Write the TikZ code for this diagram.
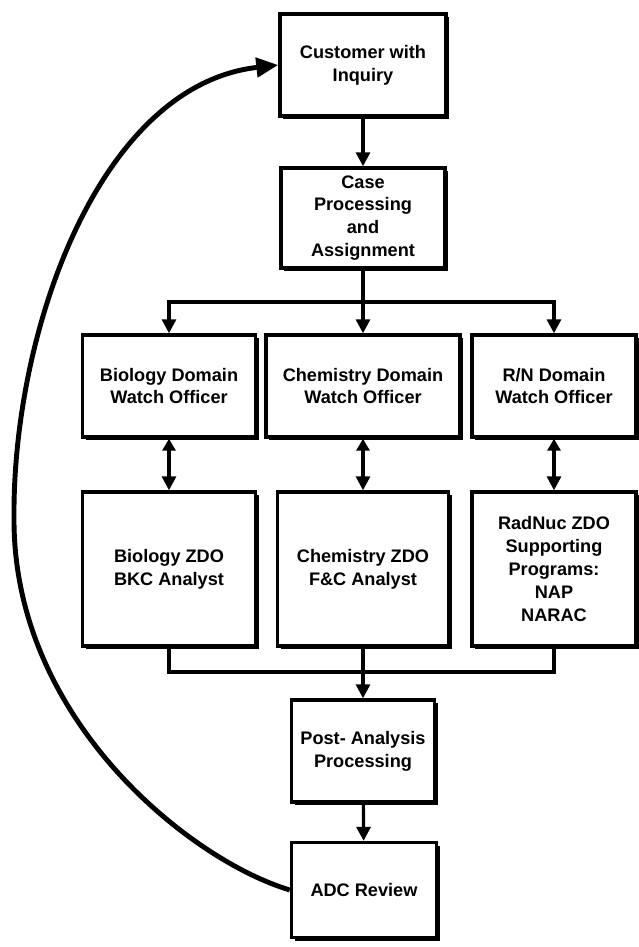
\documentclass[tikz,border=0pt]{standalone}
\usepackage{fontspec}
\setmainfont{Liberation Sans}
\usetikzlibrary{arrows.meta,shadows}
\newcommand\pxu{0.03cm}
\begin{document}
\begin{tikzpicture}[x=0.03cm,y=-0.03cm,
  box/.style={draw=black, line width=2.9pt, fill=white, align=center, inner sep=0pt,
    font=\fontsize{15.5}{19.5}\selectfont\bfseries,
    drop shadow={shadow xshift=3*\pxu, shadow yshift=-3*\pxu, fill=black, opacity=1}},
  conn/.style={line width=2.7pt},
  arr/.style={conn, -{Triangle[length=14*\pxu, width=14*\pxu]}},
  darr/.style={conn, {Triangle[length=12*\pxu, width=13*\pxu]}-{Triangle[length=14*\pxu, width=14*\pxu]}},
  loopback/.style={line width=4.2pt, -{Triangle[length=22*\pxu, width=19*\pxu]}}
]
\useasboundingbox (0,0) rectangle (638,947);

\node[box, minimum width=166*\pxu, minimum height=102*\pxu] (cust) at (363,65) {Customer with\\Inquiry};
\node[box, minimum width=164*\pxu, minimum height=100*\pxu] (case) at (363,218) {Case\\Processing\\and\\Assignment};

\node[box, minimum width=173*\pxu, minimum height=102*\pxu] (bdw) at (169,386) {Biology Domain\\Watch Officer};
\node[box, minimum width=194*\pxu, minimum height=102*\pxu] (cdw) at (363,386) {Chemistry Domain\\Watch Officer};
\node[box, minimum width=164*\pxu, minimum height=102*\pxu] (rdw) at (554,386) {R/N Domain\\Watch Officer};

\node[box, minimum width=173*\pxu, minimum height=154*\pxu] (bz) at (169,569) {Biology ZDO\\BKC Analyst};
\node[box, minimum width=171*\pxu, minimum height=154*\pxu] (cz) at (363,569) {Chemistry ZDO\\F\&C Analyst};
\node[box, minimum width=164*\pxu, minimum height=154*\pxu] (rz) at (554,569) {RadNuc ZDO\\Supporting\\Programs:\\NAP\\NARAC};

\node[box, minimum width=143*\pxu, minimum height=102*\pxu] (post) at (363,751) {Post- Analysis\\Processing};
\node[box, minimum width=145*\pxu, minimum height=95*\pxu] (adc) at (364,890) {ADC Review};

\coordinate (br) at (363,302);
\coordinate (mg) at (363,672);

\draw[arr] (cust) -- (case);
\draw[conn] (case) -- (br);
\draw[arr] (br) -| (bdw.north);
\draw[arr] (br) -| (rdw.north);
\draw[arr] (br) -- (cdw.north);

\draw[darr] (bdw) -- (bz);
\draw[darr] (cdw) -- (cz);
\draw[darr] (rdw) -- (rz);

\draw[conn] (bz.south) |- (mg) -| (rz.south);
\draw[arr] (cz.south) -- (post.north);
\draw[arr] (post) -- (adc);

\draw[loopback] (adc.west) .. controls (190,860) and (14,720) .. (14,520)
  .. controls (12,330) and (100,85) .. (cust.west);
\end{tikzpicture}
\end{document}
